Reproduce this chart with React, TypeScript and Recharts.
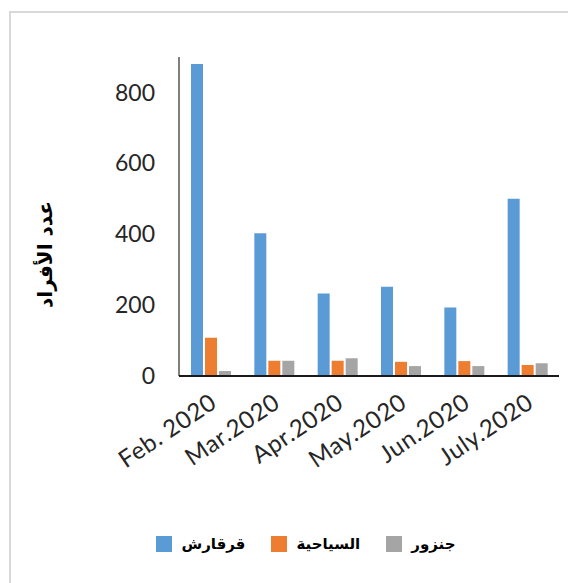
import React from "react";
import { BarChart, Bar, XAxis, YAxis, Legend } from "recharts";

// monthly counts per area
const months = ["Feb. 2020", "Mar.2020", "Apr.2020", "May.2020", "Jun.2020", "July.2020"];
const gargaresh = [880, 403, 233, 252, 193, 500];
const siyahiya = [108, 43, 43, 40, 42, 31];
const janzour = [14, 43, 50, 28, 28, 36];
const yTicks = [0, 200, 400, 600, 800];
const seriesOrder = ["gargaresh", "siyahiya", "janzour"];

const data = months.map((m, i) => ({
  name: m,
  gargaresh: gargaresh[i],
  siyahiya: siyahiya[i],
  janzour: janzour[i],
}));

const tickFont = "Lato, 'Open Sans', sans-serif";

function MonthTick(props: any) {
  const { x, y, payload } = props;
  return (
    <g transform={`translate(${x + 2},${y + 14})`}>
      <text
        transform="rotate(-34)"
        textAnchor="end"
        dy={10}
        fill="#262626"
        fontSize={24}
        letterSpacing={0.6}
        fontFamily={tickFont}
      >
        {payload.value}
      </text>
    </g>
  );
}

function YTitle(props: any) {
  const vb = props.viewBox;
  const cx = 37;
  const cy = vb.y + vb.height / 2 + 38;
  return (
    <text
      x={cx}
      y={cy}
      transform={`rotate(-90, ${cx}, ${cy})`}
      textAnchor="middle"
      dominantBaseline="central"
      fontSize={20}
      fontWeight="bold"
      fontFamily="'DejaVu Sans', sans-serif"
      fill="#000"
    >
      عدد الأفراد
    </text>
  );
}

function LegendBox(props: any) {
  const payload = [...(props.payload || [])].sort(
    (a: any, b: any) => seriesOrder.indexOf(a.dataKey) - seriesOrder.indexOf(b.dataKey)
  );
  return (
    <div style={{ display: "flex", justifyContent: "center", alignItems: "center", paddingLeft: 28 }}>
      {payload.map((p: any) => (
        <div key={p.value} style={{ display: "flex", alignItems: "center", margin: "0 13px" }}>
          <span style={{ width: 16, height: 16, background: p.color, display: "inline-block", marginRight: 9 }} />
          <span style={{ fontSize: 15, fontWeight: "bold", fontFamily: "'DejaVu Sans', sans-serif", color: "#000" }}>
            {p.value}
          </span>
        </div>
      ))}
    </div>
  );
}

export default function App() {
  return (
    <div style={{ position: "relative", width: 568, height: 575, overflow: "hidden", background: "#fff" }}>
      <div
        style={{
          position: "absolute",
          left: 1,
          top: 3,
          width: 700,
          height: 700,
          borderTop: "2px solid #d9d9d9",
          borderLeft: "2px solid #d9d9d9",
        }}
      />
      <BarChart
        width={568}
        height={575}
        data={data}
        margin={{ top: 49, right: 17, left: 0, bottom: 0 }}
        barSize={12}
        barGap={2}
        style={{ position: "relative" }}
      >
        <XAxis
          dataKey="name"
          height={207}
          axisLine={{ stroke: "#1a1a1a", strokeWidth: 2 }}
          tickLine={false}
          tick={<MonthTick />}
          interval={0}
        />
        <YAxis
          width={171}
          domain={[0, 900]}
          ticks={yTicks}
          axisLine={{ stroke: "#000", strokeWidth: 1 }}
          tickLine={false}
          tickSize={0}
          tickMargin={24}
          tick={{ fill: "#262626", fontSize: 23, fontFamily: tickFont }}
          label={{ content: <YTitle /> }}
        />
        <Legend
          layout="horizontal"
          verticalAlign="middle"
          align="center"
          wrapperStyle={{ top: 527, left: 0, width: 568 }}
          content={<LegendBox />}
        />
        <Bar dataKey="gargaresh" name="قرقارش" fill="#5B9BD5" isAnimationActive={false} />
        <Bar dataKey="siyahiya" name="السياحية" fill="#ED7D31" isAnimationActive={false} />
        <Bar dataKey="janzour" name="جنزور" fill="#A5A5A5" isAnimationActive={false} />
      </BarChart>
    </div>
  );
}
